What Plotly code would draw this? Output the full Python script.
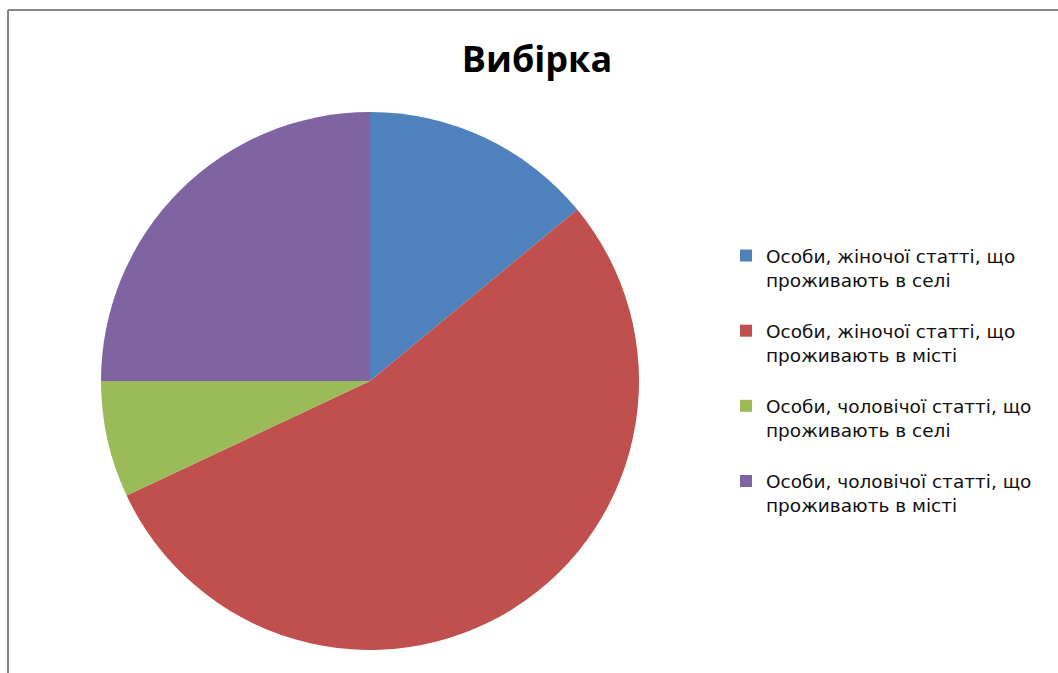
import plotly.graph_objects as go

W, H = 1058, 673

labels = [
    "Особи, жіночої статті, що<br>проживають в селі<br> ",
    "Особи, жіночої статті, що<br>проживають в місті<br> ",
    "Особи, чоловічої статті, що<br>проживають в селі<br> ",
    "Особи, чоловічої статті, що<br>проживають в місті<br> ",
]
values = [14, 54, 7, 25]
colors = ["#4F81BD", "#C0504D", "#9BBB59", "#8064A2"]

# pie geometry in pixels (centre and radius)
cx, cy, r = 370, 381, 269

fig = go.Figure(
    go.Pie(
        labels=labels,
        values=values,
        sort=False,
        direction="clockwise",
        rotation=0,
        textinfo="none",
        hoverinfo="label+value",
        marker=dict(colors=colors, line=dict(width=0)),
        domain=dict(
            x=[(cx - r) / W, (cx + r) / W],
            y=[1 - (cy + r) / H, 1 - (cy - r) / H],
        ),
    )
)

# chart frame (top and left edges visible)
frame = dict(color="#878787", width=2)
fig.add_shape(type="line", xref="paper", yref="paper",
              x0=8 / W, x1=1.0, y0=1 - 10 / H, y1=1 - 10 / H, line=frame)
fig.add_shape(type="line", xref="paper", yref="paper",
              x0=8 / W, x1=8 / W, y0=0, y1=1 - 10 / H, line=frame)

fig.update_layout(
    width=W,
    height=H,
    margin=dict(l=0, r=0, t=0, b=0),
    paper_bgcolor="white",
    plot_bgcolor="white",
    title=dict(
        text="<b>Вибірка</b>",
        x=537 / W,
        xanchor="center",
        y=1 - 59 / H,
        yanchor="middle",
        font=dict(family="Open Sans", size=36, color="black"),
    ),
    legend=dict(
        x=726 / W,
        xanchor="left",
        y=1 - 237 / H,
        yanchor="top",
        valign="top",
        font=dict(family="DejaVu Sans", size=18.5, color="#111111"),
        bgcolor="rgba(0,0,0,0)",
    ),
)

fig.write_html("out.html")
